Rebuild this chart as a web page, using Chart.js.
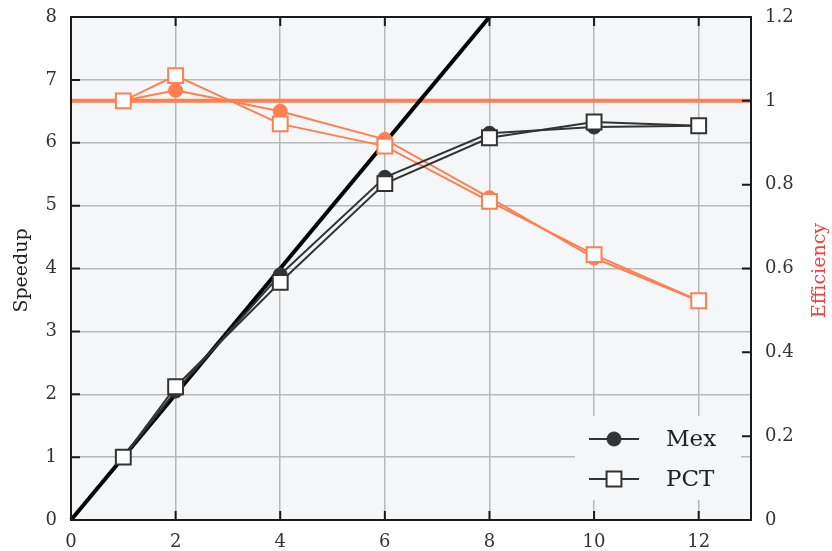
<!DOCTYPE html>
<html>
<head>
<meta charset="utf-8">
<script src="https://cdn.jsdelivr.net/npm/chart.js@4/dist/chart.umd.min.js"></script>
<style>
  html, body { margin: 0; padding: 0; background: #ffffff; }
  #wrap { width: 832px; height: 551px; }
</style>
</head>
<body>
<div id="wrap"><canvas id="c" width="832" height="551"></canvas></div>
<script>
// Number of processes
const procs = [1, 2, 4, 6, 8, 10, 12];

// Speedup (left axis)
const speedupMex = [1.0, 2.05, 3.90, 5.45, 6.15, 6.25, 6.27];
const speedupPCT = [1.0, 2.12, 3.78, 5.35, 6.08, 6.33, 6.27];

// Parallel efficiency (right axis)
const effMex = [1.0, 1.025, 0.975, 0.908, 0.769, 0.625, 0.523];
const effPCT = [1.0, 1.06, 0.945, 0.892, 0.760, 0.633, 0.523];

// Reference lines: ideal linear speedup and perfect efficiency
const idealX = [0, 8];
const idealY = [0, 8];
const perfectX = [0, 13];
const perfectEff = [1, 1];

// Axis ticks
const xTicks = [0, 2, 4, 6, 8, 10, 12];
const leftTicks = [0, 1, 2, 3, 4, 5, 6, 7, 8];
const rightTicks = [0, 0.2, 0.4, 0.6, 0.8, 1.0, 1.2];

// Axis titles
const leftTitle = 'Speedup';
const rightTitle = 'Efficiency';

const DARK = '#333333';
const CORAL = '#ff7f50';
const FONT = '"DejaVu Serif", "Liberation Serif", serif';

const pts = (xs, ys) => xs.map((x, i) => ({ x: x, y: ys[i] }));

const plotBackground = {
  id: 'plotBackground',
  beforeDraw(chart) {
    const { ctx, chartArea: a } = chart;
    ctx.save();
    ctx.fillStyle = '#f5f6f8';
    ctx.fillRect(a.left, a.top, a.right - a.left, a.bottom - a.top);
    ctx.restore();
  }
};

// Legend box in the lower right, with line-through-marker samples
const markerLegend = {
  id: 'markerLegend',
  afterDatasetsDraw(chart) {
    const { ctx, chartArea: a } = chart;
    const boxW = 166, boxH = 84;
    const bx = a.right - 10 - boxW, by = a.bottom - 20 - boxH;
    ctx.save();
    ctx.fillStyle = '#f5f6f8';
    ctx.fillRect(bx, by, boxW, boxH);
    const entries = [
      { label: 'Mex', ds: chart.data.datasets[1] },
      { label: 'PCT', ds: chart.data.datasets[0] }
    ];
    entries.forEach((e, i) => {
      const y = by + 23 + i * 40;
      const x0 = bx + 14, x1 = bx + 64, xm = (x0 + x1) / 2;
      ctx.strokeStyle = e.ds.borderColor;
      ctx.lineWidth = 2;
      ctx.beginPath();
      ctx.moveTo(x0, y);
      ctx.lineTo(x1, y);
      ctx.stroke();
      ctx.fillStyle = e.ds.pointBackgroundColor;
      ctx.strokeStyle = e.ds.pointBorderColor;
      ctx.lineWidth = e.ds.pointBorderWidth;
      ctx.beginPath();
      if (e.ds.pointStyle === 'circle') {
        ctx.arc(xm, y, e.ds.pointRadius, 0, Math.PI * 2);
      } else {
        const s = e.ds.pointRadius * Math.SQRT1_2;
        ctx.rect(xm - s, y - s, 2 * s, 2 * s);
      }
      ctx.fill();
      ctx.stroke();
      ctx.fillStyle = '#222222';
      ctx.font = '23px ' + FONT;
      ctx.textBaseline = 'middle';
      ctx.textAlign = 'left';
      ctx.fillText(e.label, bx + 91, y + 1);
    });
    ctx.restore();
  }
};

// Frame with inward-pointing tick marks on all four sides, plus axis titles
const frameTicks = {
  id: 'frameTicks',
  afterDraw(chart) {
    const { ctx, chartArea: a, scales } = chart;
    const L = 9;
    ctx.save();
    ctx.strokeStyle = '#1a1a1a';
    ctx.lineWidth = 2;
    ctx.beginPath();
    xTicks.forEach(v => {
      const px = scales.x.getPixelForValue(v);
      ctx.moveTo(px, a.bottom); ctx.lineTo(px, a.bottom - L);
      ctx.moveTo(px, a.top); ctx.lineTo(px, a.top + L);
    });
    leftTicks.forEach(v => {
      const py = scales.y.getPixelForValue(v);
      ctx.moveTo(a.left, py); ctx.lineTo(a.left + L, py);
    });
    rightTicks.forEach(v => {
      const py = scales.y1.getPixelForValue(v);
      ctx.moveTo(a.right, py); ctx.lineTo(a.right - L, py);
    });
    ctx.stroke();
    ctx.strokeRect(a.left, a.top, a.right - a.left, a.bottom - a.top);

    const midY = (a.top + a.bottom) / 2 + 2;
    ctx.textAlign = 'center';
    ctx.textBaseline = 'middle';
    ctx.font = '19px ' + FONT;
    ctx.fillStyle = '#222222';
    ctx.translate(22, midY);
    ctx.rotate(-Math.PI / 2);
    ctx.fillText(leftTitle, 0, 0);
    ctx.setTransform(1, 0, 0, 1, 0, 0);
    ctx.fillStyle = '#ff3b3b';
    ctx.translate(820, midY);
    ctx.rotate(-Math.PI / 2);
    ctx.fillText(rightTitle, 0, 0);
    ctx.restore();
  }
};

const noVerticalPadding = s => { s.paddingTop = 0; s.paddingBottom = 0; };

const ctx = document.getElementById('c').getContext('2d');
new Chart(ctx, {
  type: 'line',
  data: {
    datasets: [
      {
        label: 'PCT',
        data: pts(procs, speedupPCT),
        yAxisID: 'y',
        borderColor: DARK,
        borderWidth: 2,
        pointStyle: 'rect',
        pointRadius: 10.5,
        pointBackgroundColor: '#ffffff',
        pointBorderColor: DARK,
        pointBorderWidth: 2
      },
      {
        label: 'Mex',
        data: pts(procs, speedupMex),
        yAxisID: 'y',
        borderColor: DARK,
        borderWidth: 2,
        pointStyle: 'circle',
        pointRadius: 7,
        pointBackgroundColor: DARK,
        pointBorderColor: DARK,
        pointBorderWidth: 1
      },
      {
        label: 'PCT efficiency',
        data: pts(procs, effPCT),
        yAxisID: 'y1',
        borderColor: CORAL,
        borderWidth: 2,
        pointStyle: 'rect',
        pointRadius: 10.5,
        pointBackgroundColor: '#ffffff',
        pointBorderColor: CORAL,
        pointBorderWidth: 2
      },
      {
        label: 'Mex efficiency',
        data: pts(procs, effMex),
        yAxisID: 'y1',
        borderColor: CORAL,
        borderWidth: 2,
        pointStyle: 'circle',
        pointRadius: 7,
        pointBackgroundColor: CORAL,
        pointBorderColor: CORAL,
        pointBorderWidth: 1
      },
      {
        label: 'Ideal speedup',
        data: pts(idealX, idealY),
        yAxisID: 'y',
        borderColor: '#000000',
        borderWidth: 4,
        pointRadius: 0
      },
      {
        label: 'Ideal efficiency',
        data: pts(perfectX, perfectEff),
        yAxisID: 'y1',
        borderColor: CORAL,
        borderWidth: 4,
        pointRadius: 0
      }
    ]
  },
  options: {
    responsive: false,
    animation: false,
    clip: false,
    layout: { padding: { top: 17, left: 0, right: 0, bottom: 0 } },
    plugins: {
      legend: { display: false },
      tooltip: { enabled: false },
      title: { display: false }
    },
    scales: {
      x: {
        type: 'linear',
        min: 0,
        max: 13,
        afterBuildTicks: s => { s.ticks = xTicks.map(v => ({ value: v })); },
        afterFit: s => { s.height = 31; s.paddingLeft = 0; s.paddingRight = 0; },
        grid: { color: '#b8b8b8', lineWidth: 1.5, drawTicks: false },
        border: { display: false },
        ticks: { padding: 12, color: '#333333', font: { family: FONT, size: 18 } }
      },
      y: {
        type: 'linear',
        position: 'left',
        min: 0,
        max: 8,
        afterBuildTicks: s => { s.ticks = leftTicks.map(v => ({ value: v })); },
        afterFit: s => { s.width = 71; noVerticalPadding(s); },
        grid: { color: '#b8b8b8', lineWidth: 1.5, drawTicks: false },
        border: { display: false },
        ticks: { padding: 14, color: '#333333', font: { family: FONT, size: 18 } }
      },
      y1: {
        type: 'linear',
        position: 'right',
        min: 0,
        max: 1.2,
        afterBuildTicks: s => { s.ticks = rightTicks.map(v => ({ value: v })); },
        afterFit: s => { s.width = 81; noVerticalPadding(s); },
        grid: { display: false, drawTicks: false },
        border: { display: false },
        ticks: {
          padding: 14,
          color: '#333333',
          font: { family: FONT, size: 18 },
          callback: v => String(Math.round(v * 10) / 10)
        }
      }
    }
  },
  plugins: [plotBackground, markerLegend, frameTicks]
});
</script>
</body>
</html>
